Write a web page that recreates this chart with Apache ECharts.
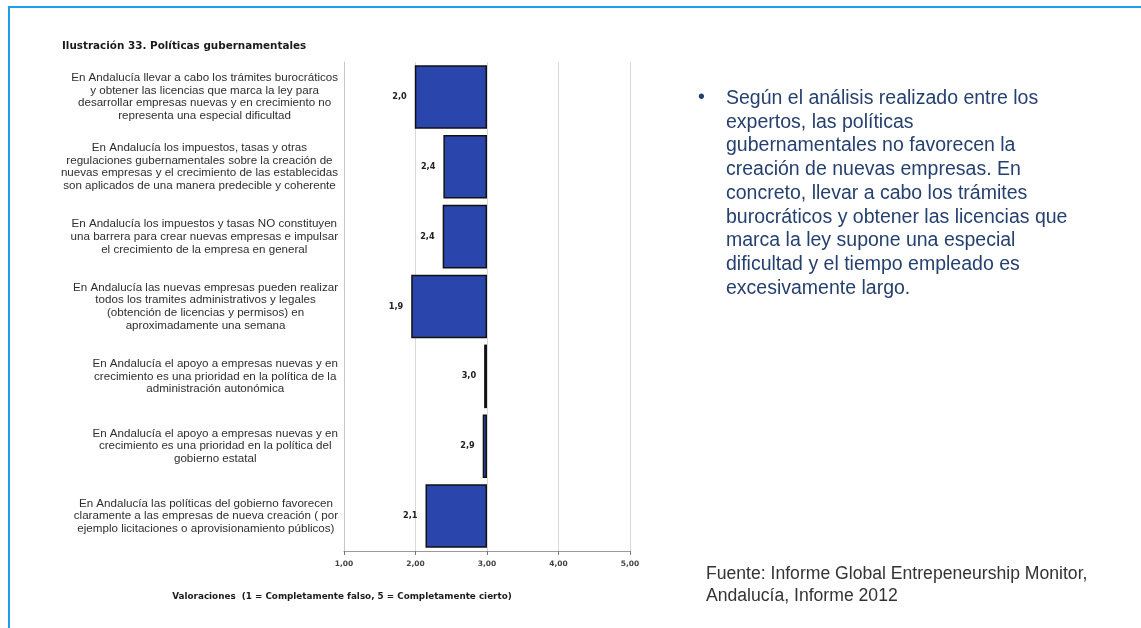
<!DOCTYPE html>
<html>
<head>
<meta charset="utf-8">
<script src="https://cdn.jsdelivr.net/npm/echarts@6/dist/echarts.min.js"></script>
<style>
  html, body { margin: 0; padding: 0; background: #ffffff; }
  #chart { width: 1141px; height: 628px; }
</style>
</head>
<body>
<div id="chart"></div>
<script>
// Statements rated by experts (top to bottom), with explicit line breaks
const categories = [
  'En Andalucía llevar a cabo los trámites burocráticos\ny obtener las licencias que marca la ley para\ndesarrollar empresas nuevas y en crecimiento no\nrepresenta una especial dificultad',
  'En Andalucía los impuestos, tasas y otras\nregulaciones gubernamentales sobre la creación de\nnuevas empresas y el crecimiento de las establecidas\nson aplicados de una manera predecible y coherente',
  'En Andalucía los impuestos y tasas NO constituyen\nuna barrera para crear nuevas empresas e impulsar\nel crecimiento de la empresa en general',
  'En Andalucía las nuevas empresas pueden realizar\ntodos los tramites administrativos y legales\n(obtención de licencias y permisos) en\naproximadamente una semana',
  'En Andalucía el apoyo a empresas nuevas y en\ncrecimiento es una prioridad en la política de la\nadministración autonómica',
  'En Andalucía el apoyo a empresas nuevas y en\ncrecimiento es una prioridad en la política del\ngobierno estatal',
  'En Andalucía las políticas del gobierno favorecen\nclaramente a las empresas de nueva creación ( por\nejemplo licitaciones o aprovisionamiento públicos)'
];

// Mean rating per statement (1 = completely false, 5 = completely true)
const ratings = [1.99, 2.39, 2.38, 1.94, 2.96, 2.94, 2.14];

// Bars are drawn from the rating up to the neutral midpoint
const midpoint = 3;

// Value axis ticks
const axisMin = 1;
const axisMax = 5;
const axisStep = 1;

const titleText = 'Ilustración 33. Políticas gubernamentales';
const axisTitle = 'Valoraciones  (1 = Completamente falso, 5 = Completamente cierto)';

const commentLines = [
  'Según el análisis realizado entre los',
  'expertos, las políticas',
  'gubernamentales no favorecen la',
  'creación de nuevas empresas. En',
  'concreto, llevar a cabo los trámites',
  'burocráticos y obtener las licencias que',
  'marca la ley supone una especial',
  'dificultad y el tiempo empleado es',
  'excesivamente largo.'
];

const sourceLines = [
  'Fuente: Informe Global Entrepeneurship Monitor,',
  'Andalucía, Informe 2012'
];

const decimalComma = (v, d) => v.toFixed(d).replace('.', ',');

const chart = echarts.init(document.getElementById('chart'), null, { renderer: 'canvas' });

const option = {
  backgroundColor: '#ffffff',
  animation: false,
  grid: {
    left: 344,
    right: 511,
    top: 62,
    bottom: 77,
    containLabel: false,
    outerBoundsMode: 'none'
  },
  xAxis: {
    type: 'value',
    min: axisMin,
    max: axisMax,
    interval: axisStep,
    axisLine: { show: true, lineStyle: { color: '#9a9a9a', width: 1 } },
    axisTick: { show: true, length: 4, lineStyle: { color: '#777777' } },
    splitLine: { show: true, lineStyle: { color: '#d9d9d9', width: 1 } },
    axisLabel: {
      margin: 9,
      color: '#444444',
      fontFamily: 'DejaVu Sans',
      fontWeight: 'bold',
      fontSize: 7.5,
      formatter: v => decimalComma(v, 2)
    }
  },
  yAxis: {
    type: 'category',
    inverse: true,
    data: categories,
    axisLine: { show: true, lineStyle: { color: '#c8c8c8', width: 1 } },
    axisTick: { show: false },
    splitLine: { show: false },
    axisLabel: {
      interval: 0,
      align: 'right',
      margin: 6,
      formatter: v => v.split('\n').map(l => '{c|' + l + '}').join('\n'),
      rich: {
        c: {
          align: 'center',
          fontFamily: 'Liberation Sans',
          fontSize: 11.6,
          lineHeight: 12.7,
          color: '#2e2e2e'
        }
      }
    }
  },
  series: [
    {
      // transparent spacer from the axis start up to the rating
      type: 'bar',
      stack: 'rating',
      silent: true,
      barCategoryGap: '9%',
      itemStyle: { color: 'rgba(0,0,0,0)' },
      data: ratings
    },
    {
      type: 'bar',
      stack: 'rating',
      barCategoryGap: '9%',
      itemStyle: { color: '#2a46ac', borderColor: '#111111', borderWidth: 1.5 },
      label: {
        show: true,
        position: 'left',
        distance: 8,
        color: '#222222',
        fontFamily: 'DejaVu Sans',
        fontWeight: 'bold',
        fontSize: 8.2,
        formatter: p => decimalComma(ratings[p.dataIndex], 1)
      },
      data: ratings.map(v => +(midpoint - v).toFixed(2))
    }
  ],
  graphic: [
    // frame lines
    { type: 'rect', shape: { x: 8, y: 6, width: 1133, height: 2 }, style: { fill: '#1e9fe2' }, silent: true },
    { type: 'rect', shape: { x: 8, y: 6, width: 2, height: 622 }, style: { fill: '#1e9fe2' }, silent: true },
    {
      type: 'text', left: 62, top: 41,
      style: {
        text: titleText, fill: '#1a1a1a',
        font: 'bold 10.4px "DejaVu Sans"'
      }
    },
    {
      type: 'text', x: 342, y: 597,
      style: {
        text: axisTitle, fill: '#1a1a1a',
        font: 'bold 8.8px "DejaVu Sans"',
        align: 'center', verticalAlign: 'middle'
      }
    },
    {
      type: 'text', x: 698, y: 98,
      style: {
        text: '•', fill: '#243f70',
        font: '19.5px "Liberation Sans"',
        align: 'left', verticalAlign: 'middle'
      }
    },
    {
      type: 'text', x: 726, y: 86.5,
      style: {
        text: commentLines.join('\n'), fill: '#243f70',
        font: '19.5px "Liberation Sans"',
        lineHeight: 23.75,
        align: 'left', verticalAlign: 'top'
      }
    },
    {
      type: 'text', x: 706, y: 563.5,
      style: {
        text: sourceLines.join('\n'), fill: '#333333',
        font: '17.6px "Liberation Sans"',
        lineHeight: 22,
        align: 'left', verticalAlign: 'top'
      }
    }
  ]
};

chart.setOption(option);
</script>
</body>
</html>
